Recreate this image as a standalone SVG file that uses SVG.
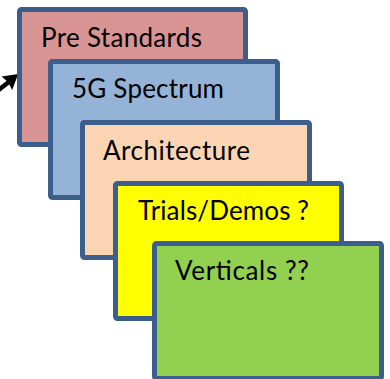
<svg xmlns="http://www.w3.org/2000/svg" width="390" height="379" viewBox="0 0 390 379">
<style>
.card{stroke:#3B5E8C;stroke-width:5;}
.lbl{font-family:Lato,"Liberation Sans",sans-serif;font-size:26px;fill:#000;}
</style>
<rect width="390" height="379" fill="#fff"/>
<g id="connectors">
<path d="M-4,92 L10,81" stroke="#000" stroke-width="4.5" fill="none"/>
<path d="M17,75 L3.3,77.1 L8.5,81.5 L12.1,88.1 Z" fill="#000" stroke="#000" stroke-width="1.5" stroke-linejoin="miter"/>
</g>
<g id="pre-standards">
<rect class="card" x="19.5" y="9.5" width="226" height="135" rx="2" fill="#D99594"/>
<text class="lbl" x="41" y="46.5" textLength="161">Pre Standards</text>
</g>
<g id="spectrum">
<rect class="card" x="50.5" y="61.5" width="227" height="136" rx="2" fill="#95B3D7"/>
<text class="lbl" x="72" y="98" textLength="152">5G Spectrum</text>
</g>
<g id="architecture">
<rect class="card" x="82.5" y="122.5" width="227" height="135" rx="2" fill="#FBD4B4"/>
<text class="lbl" x="103" y="160" textLength="147">Architecture</text>
</g>
<g id="trials">
<rect class="card" x="115.5" y="183.5" width="226" height="135" rx="2" fill="#FFFF00"/>
<text class="lbl" x="138" y="220" textLength="171">Trials/Demos ?</text>
</g>
<g id="verticals">
<rect class="card" x="154.5" y="243.5" width="227" height="135" rx="2" fill="#92D050"/>
<text class="lbl" x="175" y="280" textLength="134">Verticals ??</text>
</g>
</svg>
